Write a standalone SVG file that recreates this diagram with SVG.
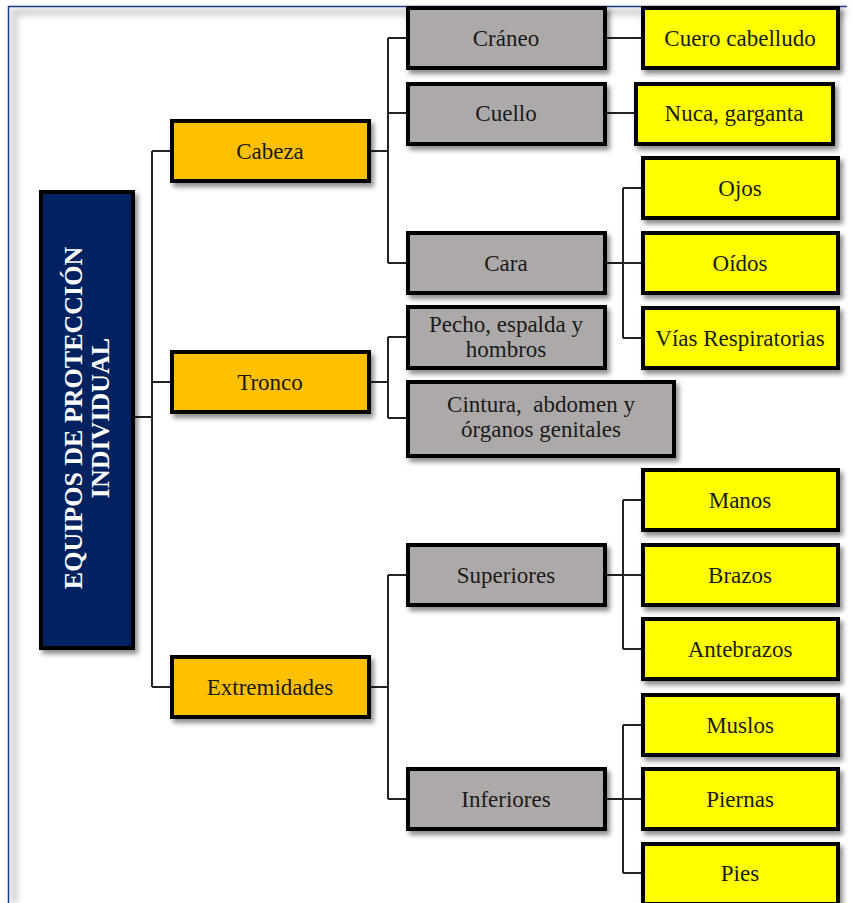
<svg xmlns="http://www.w3.org/2000/svg" width="854" height="903" viewBox="0 0 854 903">
<defs>
<filter id="sh" x="-10%" y="-20%" width="130%" height="150%">
<feDropShadow dx="3" dy="4" stdDeviation="2.5" flood-color="#000" flood-opacity="0.45"/>
</filter>
<filter id="blur" x="-5%" y="-5%" width="110%" height="110%">
<feGaussianBlur stdDeviation="3"/>
</filter>
<style>
.b{stroke:#000;stroke-width:4}
.root{fill:#002060}
.o{fill:#FFC000}
.g{fill:#ADA9A9}
.y{fill:#FFFF00}
.t{font-family:"Liberation Serif","Times New Roman",serif;font-size:23px;text-anchor:middle;fill:#1a1a1a}
.rt{font-family:"Liberation Serif","Times New Roman",serif;font-size:26px;font-weight:bold;text-anchor:middle;fill:#fff}
.c{fill:none;stroke:#222;stroke-width:2}
</style>
</defs>
<rect width="854" height="903" fill="#fff"/>
<g id="frame">
<path d="M14 903 V12 H846" fill="none" stroke="#cfcfcf" stroke-width="7" filter="url(#blur)"/>
<path d="M8.5 903 V6.5 H847" fill="none" stroke="#1F3C88" stroke-width="1.5"/>
</g>
<g id="connectors" class="c">
<path d="M134 417 H152 M152 151 V687 M152 151 H172 M152 382 H172 M152 687 H172"/>
<path d="M370 151 H388 M388 38 V263 M388 38 H408 M388 113 H408 M388 263 H408"/>
<path d="M606 38 H643 M606 113 H636"/>
<path d="M606 263 H623 M623 188 V338 M623 188 H643 M623 263 H643 M623 338 H643"/>
<path d="M370 382 H388 M388 337 V418 M388 337 H408 M388 418 H408"/>
<path d="M370 687 H388 M388 575 V799 M388 575 H408 M388 799 H408"/>
<path d="M606 575 H623 M623 500 V649 M623 500 H643 M623 575 H643 M623 649 H643"/>
<path d="M606 799 H623 M623 725 V873 M623 725 H643 M623 799 H643 M623 873 H643"/>
</g>
<g id="root"><rect class="b root" x="41" y="192" width="92" height="456" filter="url(#sh)"/>
<text class="rt" transform="translate(87 418) rotate(-90)"><tspan x="0" y="-5">EQUIPOS DE PROTECCIÓN</tspan><tspan x="0" y="22">INDIVIDUAL</tspan></text></g>
<g id="cabeza"><rect class="b o" x="172" y="121" width="197" height="60" filter="url(#sh)"/><text class="t" x="270" y="159">Cabeza</text></g>
<g id="tronco"><rect class="b o" x="172" y="352" width="197" height="60" filter="url(#sh)"/><text class="t" x="270" y="390">Tronco</text></g>
<g id="extremidades"><rect class="b o" x="172" y="657" width="197" height="60" filter="url(#sh)"/><text class="t" x="270" y="695">Extremidades</text></g>
<g id="craneo"><rect class="b g" x="408" y="8" width="197" height="60" filter="url(#sh)"/><text class="t" x="506" y="46">Cráneo</text></g>
<g id="cuello"><rect class="b g" x="408" y="84" width="197" height="60" filter="url(#sh)"/><text class="t" x="506" y="121">Cuello</text></g>
<g id="cara"><rect class="b g" x="408" y="233" width="197" height="60" filter="url(#sh)"/><text class="t" x="506" y="271">Cara</text></g>
<g id="pecho"><rect class="b g" x="408" y="307" width="197" height="61" filter="url(#sh)"/><text class="t" x="506" y="332">Pecho, espalda y</text><text class="t" x="506" y="357">hombros</text></g>
<g id="cintura"><rect class="b g" x="408" y="382" width="266" height="74" filter="url(#sh)"/><text class="t" x="541" y="412" xml:space="preserve">Cintura,  abdomen y</text><text class="t" x="541" y="437">órganos genitales</text></g>
<g id="superiores"><rect class="b g" x="408" y="545" width="197" height="60" filter="url(#sh)"/><text class="t" x="506" y="583">Superiores</text></g>
<g id="inferiores"><rect class="b g" x="408" y="769" width="197" height="60" filter="url(#sh)"/><text class="t" x="506" y="807">Inferiores</text></g>
<g id="cuero"><rect class="b y" x="643" y="8" width="195" height="60" filter="url(#sh)"/><text class="t" x="740" y="46">Cuero cabelludo</text></g>
<g id="nuca"><rect class="b y" x="636" y="84" width="197" height="60" filter="url(#sh)"/><text class="t" x="734" y="121">Nuca, garganta</text></g>
<g id="ojos"><rect class="b y" x="643" y="158" width="195" height="60" filter="url(#sh)"/><text class="t" x="740" y="196">Ojos</text></g>
<g id="oidos"><rect class="b y" x="643" y="233" width="195" height="60" filter="url(#sh)"/><text class="t" x="740" y="271">Oídos</text></g>
<g id="vias"><rect class="b y" x="643" y="308" width="195" height="60" filter="url(#sh)"/><text class="t" x="740" y="346">Vías Respiratorias</text></g>
<g id="manos"><rect class="b y" x="643" y="470" width="195" height="60" filter="url(#sh)"/><text class="t" x="740" y="508">Manos</text></g>
<g id="brazos"><rect class="b y" x="643" y="545" width="195" height="60" filter="url(#sh)"/><text class="t" x="740" y="583">Brazos</text></g>
<g id="antebrazos"><rect class="b y" x="643" y="619" width="195" height="60" filter="url(#sh)"/><text class="t" x="740" y="657">Antebrazos</text></g>
<g id="muslos"><rect class="b y" x="643" y="695" width="195" height="60" filter="url(#sh)"/><text class="t" x="740" y="733">Muslos</text></g>
<g id="piernas"><rect class="b y" x="643" y="769" width="195" height="60" filter="url(#sh)"/><text class="t" x="740" y="807">Piernas</text></g>
<g id="pies"><rect class="b y" x="643" y="844" width="195" height="60" filter="url(#sh)"/><text class="t" x="740" y="881">Pies</text></g>
</svg>
